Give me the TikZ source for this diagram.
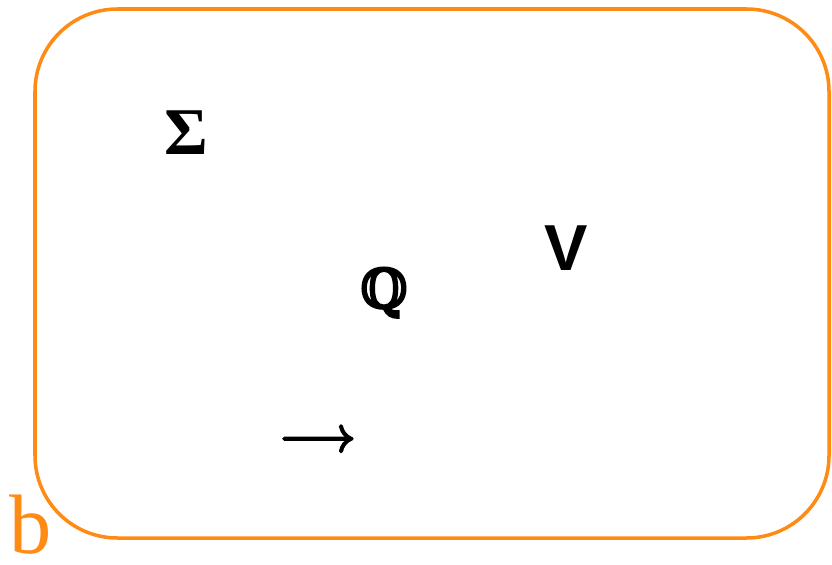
\documentclass[tikz,border=0pt]{standalone}
\usepackage{fontspec}
\usepackage{amsmath}
\usepackage{xcolor}
\usepackage{tikz}
\usetikzlibrary{positioning}
\newfontfamily\libsans{Liberation Sans}
\newfontfamily\libserif{Liberation Serif}
\newfontfamily\dejaserifheavy[FakeBold=4]{DejaVu Serif}
\newfontfamily\arrowfont[FakeBold=4]{latinmodern-math.otf}
\definecolor{frameorange}{HTML}{FF8A14}

\begin{document}
\begin{tikzpicture}[
    glyph/.style={inner sep=0pt,text=black,anchor=base},
    frame/.style={draw=frameorange,line width=2pt,rounded corners=1.65cm}
]
\useasboundingbox (0,0) rectangle (16.64,11.28);
\draw[frame] (0.70,0.52) rectangle (16.58,11.10);
\node[glyph,font=\libserif\bfseries\fontsize{38}{38}\selectfont] (sigma) at (3.72,8.18) {Σ};
\node[glyph,font=\libsans\bfseries\fontsize{37}{37}\selectfont] (vee) at (11.32,5.88) {V};
\node[glyph,font=\dejaserifheavy\fontsize{31}{31}\selectfont] (rat) at (7.68,5.12) {ℚ};
\node[glyph,font=\arrowfont\fontsize{29}{29}\selectfont] (arr) at (6.36,2.25) {⟶};
\node[glyph,text=frameorange,font=\libserif\fontsize{48}{48}\selectfont] (lbl) at (0.62,0.22) {b};
\end{tikzpicture}
\end{document}
